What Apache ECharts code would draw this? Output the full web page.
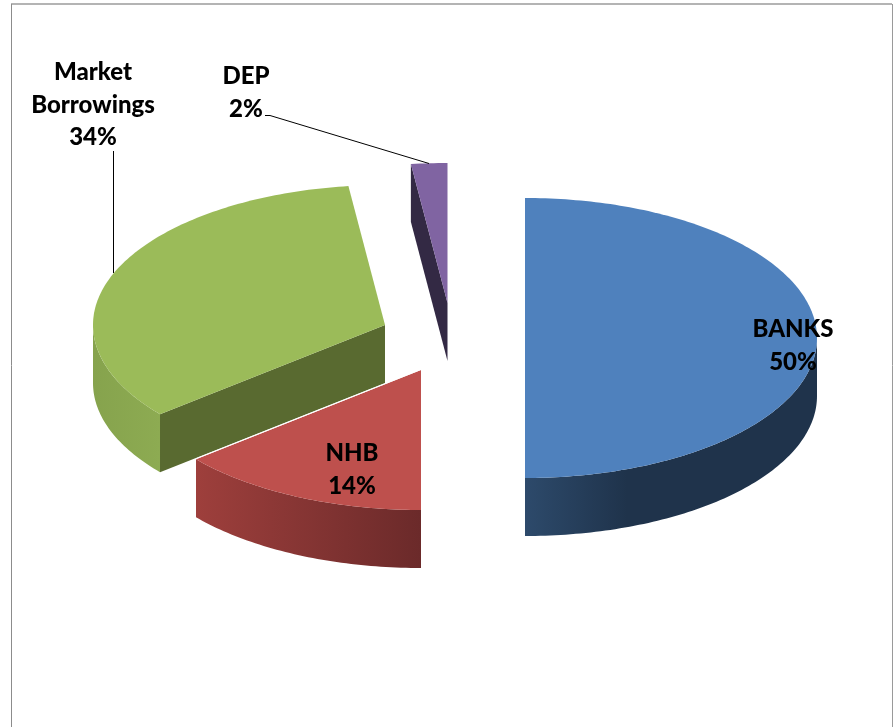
<!DOCTYPE html>
<html>
<head>
    <meta charset="utf-8">
    <title>Borrowings</title>
    <script src="https://cdn.jsdelivr.net/npm/echarts@6/dist/echarts.min.js"></script>
    <style>
        html, body { margin: 0; padding: 0; background: #fff; }
    </style>
</head>
<body>
<div id="main" style="width: 895px;height:727px;"></div>
<script type="text/javascript">
    var categories = ['BANKS', 'NHB', 'Market Borrowings', 'DEP'];
    var shares = [50, 14, 34, 2];

    // slice geometry, pixels. Each slice is pulled out of the pie on its own
    var radiusX = 292, radiusY = 140, depth = 58;
    var centers = [[525, 338], [421, 370], [385, 325], [447.5, 303]];
    var labelAt = [[793, 346], [352, 470], [93, 105], [246, 93]];
    var paintRank = [3, 2, 1, 0];

    var topColors = ['#4f81bd', '#be504d', '#9bbb59', '#8064a2'];
    var faceColors = ['#1f334b', '#6b2a2a', '#596a30', '#332944'];
    var wallStops = [
        [[0, '#2d4a6b'], [0.35, '#1f334b'], [1, '#1f334b']],
        [[0, '#9e3f3c'], [1, '#6b2a2a']],
        [[0, '#86a34d'], [1, '#8dab52']],
        [[0, '#332944'], [1, '#332944']]
    ];

    var total = shares.reduce(function (a, b) { return a + b; }, 0);

    // clockwise from 12 o'clock, on the flattened ellipse
    function rim(c, deg, dy) {
        var a = deg * Math.PI / 180;
        return [c[0] + radiusX * Math.sin(a), c[1] - radiusY * Math.cos(a) + (dy || 0)];
    }

    function arc(c, from, to, dy) {
        var pts = [];
        var n = Math.max(2, Math.ceil(Math.abs(to - from)));
        for (var i = 0; i <= n; i++) {
            pts.push(rim(c, from + (to - from) * i / n, dy));
        }
        return pts;
    }

    function renderItem(params, api) {
        var i = params.dataIndex;
        var before = 0;
        for (var k = 0; k < i; k++) {
            before += shares[k];
        }
        var from = before / total * 360;
        var to = from + api.value(1) / total * 360;
        var c = centers[i];
        var z = paintRank[i] * 10;
        var children = [];

        // cut face, only when it turns towards the viewer
        if (from > 180 && from < 360) {
            var p = rim(c, from);
            children.push({
                type: 'polygon',
                z2: z,
                shape: { points: [c, p, [p[0], p[1] + depth], [c[0], c[1] + depth]] },
                style: { fill: faceColors[i] }
            });
        }

        // outer wall, front half of the rim only
        var wallFrom = Math.max(from, 90), wallTo = Math.min(to, 270);
        if (wallTo > wallFrom) {
            children.push({
                type: 'polygon',
                z2: z + 1,
                shape: { points: arc(c, wallFrom, wallTo).concat(arc(c, wallTo, wallFrom, depth)) },
                style: { fill: new echarts.graphic.LinearGradient(0, 0, 1, 0, wallStops[i].map(function (s) {
                    return { offset: s[0], color: s[1] };
                })) }
            });
        }

        children.push({
            type: 'polygon',
            z2: z + 2,
            shape: { points: [c].concat(arc(c, from, to)) },
            style: { fill: topColors[i] }
        });

        // white hairline where NHB's closing edge sits over Market Borrowings
        if (to > 180 && to < 270) {
            var e = rim(c, to);
            children.push({
                type: 'line',
                z2: z + 3,
                shape: { x1: c[0], y1: c[1] - 0.5, x2: e[0], y2: e[1] - 0.5 },
                style: { stroke: '#fff', lineWidth: 1 }
            });
        }

        var pct = Math.round(api.value(1) / total * 100) + '%';
        children.push({
            type: 'text',
            z2: 100,
            style: {
                text: categories[i].replace(' ', '\n') + '\n' + pct,
                x: labelAt[i][0],
                y: labelAt[i][1],
                align: 'center',
                verticalAlign: 'middle',
                font: '900 24px Lato',
                lineHeight: 32.5,
                fill: '#000'
            }
        });

        return { type: 'group', children: children };
    }

    var myChart = echarts.init(document.getElementById('main'), null, { renderer: 'canvas' });

    myChart.setOption({
        animation: false,
        backgroundColor: '#fff',
        graphic: [
            { type: 'line', shape: { x1: 11, y1: 4, x2: 892, y2: 4 }, style: { stroke: '#b4b4b4', lineWidth: 2 } },
            { type: 'line', shape: { x1: 11.5, y1: 4, x2: 11.5, y2: 727 }, style: { stroke: '#8c8c8c', lineWidth: 1 } },
            { type: 'line', shape: { x1: 892.5, y1: 4, x2: 892.5, y2: 727 }, style: { stroke: '#9a9a9a', lineWidth: 1 } },
            { type: 'polyline', z: 5, shape: { points: [[113.5, 151], [113.5, 273]] }, style: { stroke: '#000', lineWidth: 1, fill: null } },
            { type: 'polyline', z: 5, shape: { points: [[265, 115.5], [270, 115.5], [429, 163.5]] }, style: { stroke: '#000', lineWidth: 1, fill: null } }
        ],
        series: [{
            type: 'custom',
            coordinateSystem: 'none',
            renderItem: renderItem,
            encode: { value: 1 },
            data: categories.map(function (name, i) {
                return { name: name, value: [i, shares[i]] };
            })
        }]
    });
</script>
</body>
</html>
